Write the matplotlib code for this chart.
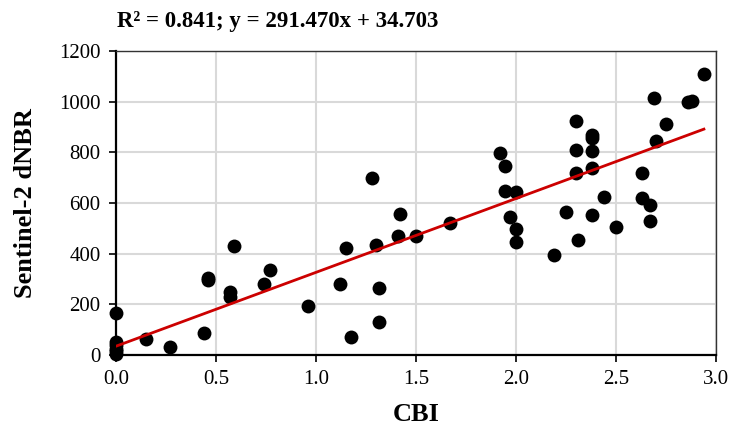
import numpy as np
import matplotlib
matplotlib.use('Agg')
import matplotlib.pyplot as plt

# datos
cbi = [0.0, 0.0, 0.0, 0.0, 0.0, 0.0, 0.15, 0.27, 0.44, 0.46, 0.46, 0.57, 0.57, 0.59, 0.74, 0.77,
       0.96, 1.12, 1.15, 1.175, 1.28, 1.30, 1.315, 1.315, 1.41, 1.42, 1.50, 1.67,
       1.92, 1.945, 1.945, 1.97, 2.00, 2.00, 2.00, 2.19, 2.25, 2.30, 2.30, 2.30, 2.31,
       2.38, 2.38, 2.38, 2.38, 2.38, 2.44, 2.50, 2.63, 2.63, 2.67, 2.67, 2.69, 2.70,
       2.75, 2.86, 2.88, 2.94]
dnbr = [167, 52, 38, 25, 15, 5, 62, 33, 86, 303, 296, 248, 228, 430, 280, 335,
        193, 279, 424, 70, 700, 434, 266, 129, 471, 555, 471, 522,
        796, 746, 649, 546, 645, 497, 445, 395, 566, 924, 809, 720, 454,
        868, 855, 807, 737, 553, 623, 507, 720, 619, 592, 530, 1013, 846,
        911, 1000, 1004, 1108]

pendiente = 291.470
intercepto = 34.703
r2 = 0.841

plt.rcParams['font.family'] = ['Liberation Serif', 'DejaVu Serif']

fig = plt.figure(figsize=(7.32, 4.28), dpi=100)
ax = fig.add_axes([0.1585, 0.1706, 0.8195, 0.7102])

ax.scatter(cbi, dnbr, s=100, color='black', zorder=3, linewidths=0, clip_on=False)

x_linea = np.array([0.0, max(cbi)])
ax.plot(x_linea, pendiente * x_linea + intercepto, color='#cc0000', linewidth=2, zorder=4)

ax.set_xlim(0, 3.0)
ax.set_ylim(0, 1200)
ax.set_xticks(np.arange(0, 3.01, 0.5))
ax.set_xticklabels([f'{v:.1f}' for v in np.arange(0, 3.01, 0.5)])
ax.set_yticks(range(0, 1201, 200))
ax.tick_params(labelsize=15, length=5, width=1.2, direction='out', pad=6)
ax.grid(True, color='#d9d9d9', linewidth=1.5, zorder=0)
ax.set_axisbelow(True)

for lado in ['left', 'bottom']:
    ax.spines[lado].set_linewidth(1.6)
for lado in ['top', 'right']:
    ax.spines[lado].set_linewidth(1.0)
    ax.spines[lado].set_color('#333333')

ax.set_xlabel('CBI', fontsize=19, fontweight='bold', labelpad=10)
ax.set_ylabel('Sentinel-2 dNBR', fontsize=19, fontweight='bold', labelpad=16)

fig.text(117 / 732, 1 - 22 / 428, f'R² = {r2:.3f}; y = {pendiente:.3f}x + {intercepto:.3f}',
         fontsize=16.5, fontweight='bold', va='center', ha='left')

fig.savefig('out.png', dpi=100)
